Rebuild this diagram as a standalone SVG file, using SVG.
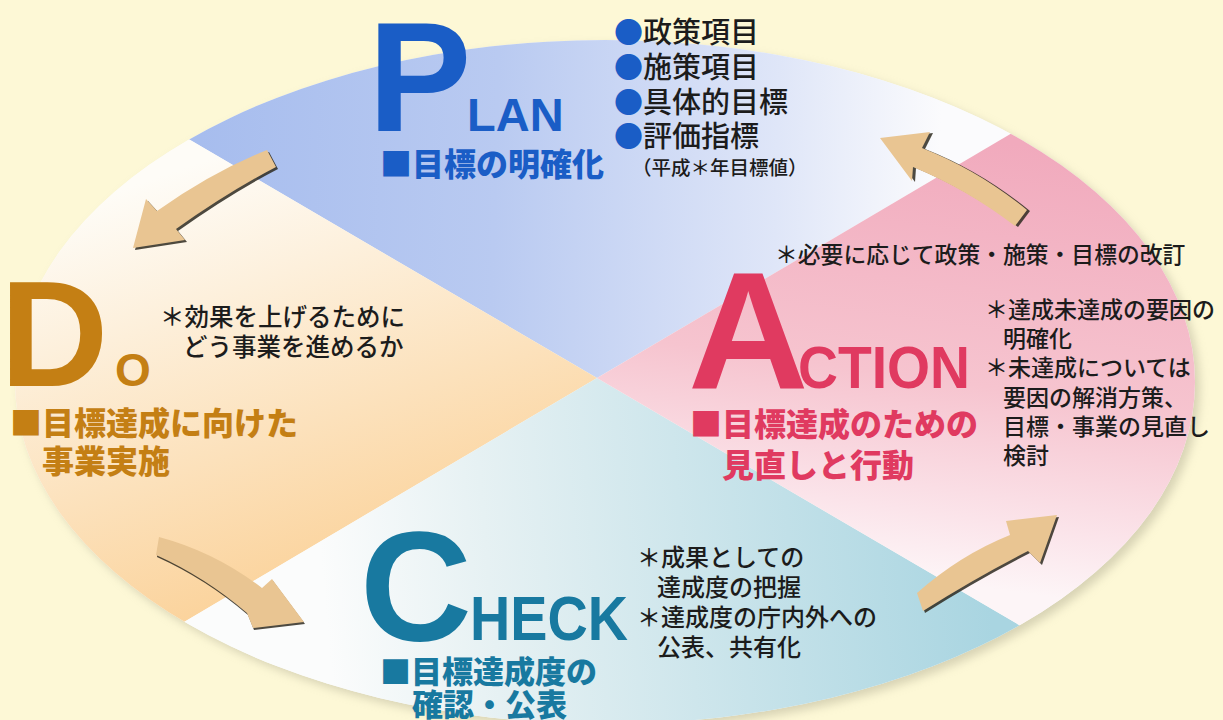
<svg xmlns="http://www.w3.org/2000/svg" width="1223" height="720" viewBox="0 0 1223 720">
<defs>
  <clipPath id="ov"><ellipse cx="605" cy="382" rx="590" ry="342"/></clipPath>
  <linearGradient id="gBlue" gradientUnits="userSpaceOnUse" x1="200" y1="150" x2="940" y2="170">
    <stop offset="0" stop-color="#a7bdee"/><stop offset="0.4" stop-color="#b9caf1"/><stop offset="0.78" stop-color="#dfe6f8"/><stop offset="1" stop-color="#fbfbfd"/>
  </linearGradient>
  <linearGradient id="gOrange" gradientUnits="userSpaceOnUse" x1="120" y1="190" x2="260" y2="600">
    <stop offset="0" stop-color="#fefcf7"/><stop offset="0.3" stop-color="#fdf0dc"/><stop offset="1" stop-color="#fbd39c"/>
  </linearGradient>
  <linearGradient id="gTeal" gradientUnits="userSpaceOnUse" x1="330" y1="660" x2="990" y2="600">
    <stop offset="0" stop-color="#fbfcfc"/><stop offset="0.25" stop-color="#e6f1f3"/><stop offset="1" stop-color="#a9d5e1"/>
  </linearGradient>
  <linearGradient id="gPink" gradientUnits="userSpaceOnUse" x1="1060" y1="150" x2="1000" y2="590">
    <stop offset="0" stop-color="#f1aabd"/><stop offset="0.55" stop-color="#f6c4cf"/><stop offset="0.85" stop-color="#fbe4ea"/><stop offset="1" stop-color="#fdf5f7"/>
  </linearGradient>
  <filter id="blur" x="-10%" y="-10%" width="120%" height="120%"><feGaussianBlur stdDeviation="5"/></filter>
</defs>
<style>
  .big{font-family:"Liberation Sans",Arial,sans-serif;font-weight:700}
  .jp{font-family:"Noto Sans CJK JP","Noto Sans CJK SC",sans-serif}
  .hd{font-weight:900}
  .bd{font-weight:500;fill:#1c1c1c}
  .blue{fill:#1a5dc6}
  .orange{fill:#c47f14}
  .red{fill:#e03a60}
  .teal{fill:#1879a0}
  .arw{fill:#e9c592}
  .arwsh{fill:#2e2a20;opacity:0.85}
</style>

<rect x="0" y="0" width="1223" height="720" fill="#fdf8d6"/>

<g id="cycle">
  <ellipse cx="610" cy="387" rx="590" ry="342" fill="#b9b59a" opacity="0.55" filter="url(#blur)"/>
  <ellipse cx="605" cy="382" rx="590" ry="342" fill="#fbfbf8"/>
  <g clip-path="url(#ov)">
    <polygon points="597,378 -420,-217 1605,-217" fill="url(#gBlue)"/>
    <polygon points="597,378 -420,-217 -410,973" fill="url(#gOrange)"/>
    <polygon points="597,378 -410,973 1614,973" fill="url(#gTeal)"/>
    <polygon points="597,378 1614,973 1605,-217" fill="url(#gPink)"/>
  </g>
</g>

<g id="connectors">
  <g id="arrow-p-d">
    <path class="arwsh" transform="translate(2,2)" d="M267,150 Q212,172 157,211 L146,199 L133,248 L185,240 L176,229 Q228,192 276,167 Z"/>
    <path class="arw" d="M267,150 Q212,172 157,211 L146,199 L133,248 L185,240 L176,229 Q228,192 276,167 Z"/>
  </g>
  <g id="arrow-d-c">
    <path class="arwsh" transform="translate(1,2)" d="M159,537 Q215,552 262,588 L272,579 L304,622 L253,628 L247,613 Q205,577 156,555 Z"/>
    <path class="arw" d="M159,537 Q215,552 262,588 L272,579 L304,622 L253,628 L247,613 Q205,577 156,555 Z"/>
  </g>
  <g id="arrow-c-a">
    <path class="arwsh" transform="translate(2,2)" d="M917,593 Q960,555 1010,535 L1006,521 L1057,515 L1040,563 L1028,551 Q975,578 923,611 Z"/>
    <path class="arw" d="M917,593 Q960,555 1010,535 L1006,521 L1057,515 L1040,563 L1028,551 Q975,578 923,611 Z"/>
  </g>
  <g id="arrow-a-p">
    <path class="arwsh" transform="translate(3,1)" d="M880,138 L930,132 L922,148 Q978,170 1027,210 L1015,226 Q968,190 913,167 L912,181 Z"/>
    <path class="arw" d="M880,138 L930,132 L922,148 Q978,170 1027,210 L1015,226 Q968,190 913,167 L912,181 Z"/>
  </g>
</g>

<g id="plan">
  <text class="big blue" x="368" y="131" font-size="155">P</text>
  <text class="big blue" x="467" y="131" font-size="47">LAN</text>
  <text class="jp hd blue" x="380" y="176" font-size="32">■目標の明確化</text>
  <g class="jp bd" font-size="29">
    <text x="614" y="43"><tspan class="blue">●</tspan>政策項目</text>
    <text x="614" y="78"><tspan class="blue">●</tspan>施策項目</text>
    <text x="614" y="113"><tspan class="blue">●</tspan>具体的目標</text>
    <text x="614" y="147"><tspan class="blue">●</tspan>評価指標</text>
  </g>
  <text class="jp bd" x="632" y="175" font-size="19.5">（平成＊年目標値）</text>
</g>

<g id="do">
  <text class="big orange" x="0" y="386" font-size="150">D</text>
  <text class="big orange" x="115" y="386" font-size="46">O</text>
  <text class="jp bd" x="160" y="326" font-size="24.5">＊効果を上げるために</text>
  <text class="jp bd" x="183" y="356" font-size="24.5">どう事業を進めるか</text>
  <text class="jp hd orange" x="10" y="435" font-size="32">■目標達成に向けた</text>
  <text class="jp hd orange" x="42" y="473" font-size="32">事業実施</text>
</g>

<g id="action">
  <text class="jp bd" x="775" y="263" font-size="22.8">＊必要に応じて政策・施策・目標の改訂</text>
  <text class="big red" x="688" y="388" font-size="167">A</text>
  <text class="big red" x="798" y="388" font-size="60" textLength="172" lengthAdjust="spacingAndGlyphs">CTION</text>
  <text class="jp hd red" x="690" y="436" font-size="32">■目標達成のための</text>
  <text class="jp hd red" x="722" y="477" font-size="32">見直しと行動</text>
  <g class="jp bd" font-size="23">
    <text x="985" y="318">＊達成未達成の要因の</text>
    <text x="1003" y="347">明確化</text>
    <text x="985" y="376">＊未達成については</text>
    <text x="1003" y="406">要因の解消方策、</text>
    <text x="1003" y="435">目標・事業の見直し</text>
    <text x="1003" y="464">検討</text>
  </g>
</g>

<g id="check">
  <text class="big teal" x="360" y="640" font-size="155">C</text>
  <text class="big teal" x="470" y="640" font-size="63" textLength="158" lengthAdjust="spacingAndGlyphs">HECK</text>
  <text class="jp hd teal" x="380" y="683" font-size="31">■目標達成度の</text>
  <text class="jp hd teal" x="412" y="716" font-size="31">確認・公表</text>
  <g class="jp bd" font-size="24">
    <text x="637" y="566">＊成果としての</text>
    <text x="657" y="596">達成度の把握</text>
    <text x="637" y="626">＊達成度の庁内外への</text>
    <text x="657" y="656">公表、共有化</text>
  </g>
</g>
</svg>
